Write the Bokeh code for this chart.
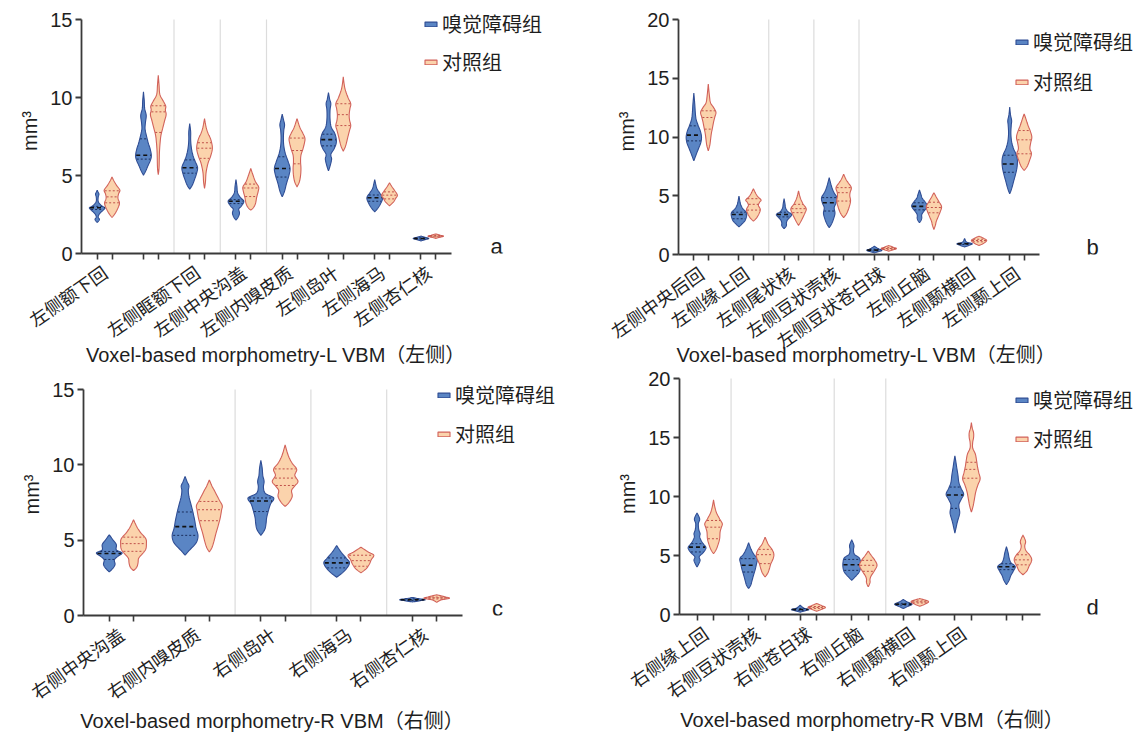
import math
import numpy as np
from bokeh.plotting import figure
from bokeh.models import Range1d, FixedTicker, Legend, LegendItem, Label
from bokeh.layouts import column, row
from bokeh.embed import file_html
from bokeh.resources import INLINE

# ---------------- data ----------------
GROUP_NAMES = ["嗅觉障碍组", "对照组"]

A_LABELS = ["左侧额下回", "左侧眶额下回", "左侧中央沟盖", "左侧内嗅皮质", "左侧岛叶", "左侧海马", "左侧杏仁核"]
A_LABEL_AT = [0, 2, 3, 4, 5, 6, 7]
A_SEPARATORS = [2, 3, 4]
A_BLUE = [
    [(1.99, 0), (2.1, .2), (2.2, .28), (2.35, .12), (2.55, .3), (2.8, .8), (2.93, 1.0), (3.05, .6), (3.3, .15), (3.6, .12), (3.8, .22), (3.95, .1), (4.06, 0)],
    [(5.02, 0), (5.3, .3), (5.6, .55), (6.0, .9), (6.3, 1.0), (6.7, .85), (7.1, .6), (7.6, .35), (8.0, .2), (8.4, .25), (8.85, .35), (9.3, .15), (9.8, .1), (10.36, 0)],
    [(4.12, 0), (4.4, .35), (4.8, .65), (5.1, .85), (5.5, 1.0), (5.9, .7), (6.3, .4), (6.8, .2), (7.3, .12), (7.8, .12), (8.33, 0)],
    [(2.14, 0), (2.35, .3), (2.6, .45), (2.85, .35), (3.05, .7), (3.35, 1.0), (3.6, .55), (3.9, .2), (4.3, .12), (4.74, 0)],
    [(3.63, 0), (4.0, .3), (4.5, .55), (5.0, .85), (5.45, 1.0), (5.9, .75), (6.4, .4), (6.9, .2), (7.4, .15), (7.9, .2), (8.25, .3), (8.6, .15), (8.93, 0)],
    [(5.30, 0), (5.6, .2), (6.05, .4), (6.35, .3), (6.7, .7), (7.0, .95), (7.3, 1.0), (7.7, .8), (8.1, .35), (8.6, .2), (9.2, .2), (9.6, .3), (9.9, .15), (10.32, 0)],
    [(2.67, 0), (2.9, .4), (3.2, .75), (3.57, 1.0), (3.9, .6), (4.2, .25), (4.74, 0)],
    [(0.80, 0), (0.9, .6), (0.96, 1.0), (1.03, .6), (1.12, 0)],
]
A_BLUE_Q = [(2.82, 2.93, 3.02), (6.05, 6.3, 7.35), (5.15, 5.5, 6.0), (3.2, 3.35, 3.45),
            (4.9, 5.45, 6.2), (6.9, 7.3, 7.65), (3.35, 3.57, 3.75), (.92, .96, 1.0)]
A_ORANGE = [
    [(2.31, 0), (2.5, .3), (2.8, .65), (3.2, .95), (3.45, .8), (3.63, .75), (3.85, .85), (4.06, 1.0), (4.35, .6), (4.65, .25), (4.91, 0)],
    [(5.06, 0), (5.5, .1), (6.5, .15), (7.2, .25), (7.6, .35), (8.0, .55), (8.5, .8), (8.9, 1.0), (9.2, .9), (9.45, .95), (9.8, .6), (10.2, .2), (10.8, .1), (11.43, 0)],
    [(4.17, 0), (4.6, .12), (5.2, .2), (5.8, .45), (6.2, .75), (6.75, 1.0), (7.3, .8), (7.7, .45), (8.1, .2), (8.65, 0)],
    [(2.78, 0), (2.95, .35), (3.2, .6), (3.6, .75), (4.0, .95), (4.27, 1.0), (4.6, .6), (5.0, .3), (5.45, 0)],
    [(4.27, 0), (4.6, .3), (5.0, .45), (5.45, .5), (5.9, .45), (6.3, .5), (6.7, .75), (7.1, .95), (7.4, 1.0), (7.75, .7), (8.1, .35), (8.65, 0)],
    [(6.56, 0), (6.9, .3), (7.4, .55), (7.9, .8), (8.2, .95), (8.55, .8), (8.9, .75), (9.3, .85), (9.6, .95), (10.0, .6), (10.5, .25), (10.9, .1), (11.32, 0)],
    [(3.06, 0), (3.3, .5), (3.55, .8), (3.74, 1.0), (4.0, .7), (4.25, .35), (4.53, 0)],
    [(0.97, 0), (1.05, .6), (1.11, 1.0), (1.17, .6), (1.25, 0)],
]
A_ORANGE_Q = [(3.25, 3.63, 4.02), (7.76, 9.08, 9.47), (6.1, 6.75, 7.1), (3.65, 4.2, 4.45),
              (5.75, 6.6, 7.4), (8.2, 8.9, 9.6), (3.5, 3.74, 3.95), (1.07, 1.11, 1.15)]

B_LABELS = ["左侧中央后回", "左侧缘上回", "左侧尾状核", "左侧豆状壳核", "左侧豆状苍白球", "左侧丘脑", "左侧颞横回", "左侧颞上回"]
B_LABEL_AT = [0, 1, 2, 3, 4, 5, 6, 7]
B_SEPARATORS = [2, 3, 4]
B_BLUE = [
    [(7.97, 0), (8.5, .3), (9.0, .6), (9.5, .9), (10.0, 1.0), (10.5, .85), (11.0, .55), (11.5, .3), (12.0, .2), (12.8, .12), (13.74, 0)],
    [(2.36, 0), (2.6, .4), (2.9, .8), (3.3, 1.0), (3.6, .95), (3.9, .5), (4.3, .2), (4.98, 0)],
    [(2.19, 0), (2.45, .3), (2.7, .3), (2.95, .45), (3.2, .8), (3.41, 1.0), (3.65, .5), (3.95, .2), (4.3, .12), (4.75, 0)],
    [(2.28, 0), (2.6, .3), (3.0, .55), (3.5, .75), (3.98, .65), (4.4, .9), (4.84, 1.0), (5.3, .6), (5.8, .3), (6.54, 0)],
    [(0.14, 0), (0.25, .6), (0.37, 1.0), (0.5, .5), (0.71, 0)],
    [(2.7, 0), (2.9, .2), (3.1, .3), (3.4, .3), (3.7, .6), (4.0, .95), (4.2, 1.0), (4.5, .7), (4.8, .35), (5.1, .2), (5.49, 0)],
    [(0.65, 0), (0.78, .6), (0.91, 1.0), (1.02, .4), (1.15, .15), (1.37, 0)],
    [(5.16, 0), (5.6, .25), (6.2, .5), (6.8, .75), (7.4, .95), (8.0, 1.0), (8.5, .85), (9.0, .5), (9.6, .25), (10.3, .15), (11.0, .2), (11.4, .25), (11.9, .1), (12.54, 0)],
]
B_BLUE_Q = [(9.67, 10.16, 10.95), (3.04, 3.4, 3.6), (3.2, 3.41, 3.6), (3.7, 4.41, 4.84),
            (.3, .37, .45), (3.8, 4.1, 4.4), (.85, .91, .97), (7.0, 7.7, 8.45)]
B_ORANGE = [
    [(8.82, 0), (9.3, .2), (9.8, .3), (10.3, .4), (10.8, .55), (11.3, .7), (11.7, .85), (12.1, 1.0), (12.5, .7), (12.9, .3), (13.5, .15), (14.51, 0)],
    [(2.85, 0), (3.1, .4), (3.5, .75), (3.84, .9), (4.18, .65), (4.45, .8), (4.64, 1.0), (4.9, .6), (5.2, .3), (5.6, 0)],
    [(2.48, 0), (2.8, .3), (3.2, .6), (3.55, .85), (3.9, 1.0), (4.3, .6), (4.7, .3), (5.0, .15), (5.41, 0)],
    [(3.13, 0), (3.5, .4), (4.0, .7), (4.55, .9), (5.0, .8), (5.3, .85), (5.69, 1.0), (6.1, .6), (6.4, .3), (6.83, 0)],
    [(0.28, 0), (0.4, .6), (0.51, 1.0), (0.62, .6), (0.77, 0)],
    [(2.13, 0), (2.5, .2), (2.8, .3), (3.2, .55), (3.6, .8), (4.07, 1.0), (4.5, .65), (4.9, .3), (5.26, 0)],
    [(0.77, 0), (0.95, .6), (1.19, 1.0), (1.38, .6), (1.56, 0)],
    [(7.15, 0), (7.5, .4), (8.0, .7), (8.57, .95), (9.0, .75), (9.5, .85), (9.99, 1.0), (10.5, .8), (11.0, .5), (11.5, .25), (11.97, 0)],
]
B_ORANGE_Q = [(10.67, 11.66, 12.23), (3.78, 4.27, 4.75), (3.56, 3.9, 4.27), (4.55, 5.26, 5.69),
              (.45, .51, .58), (3.55, 4.0, 4.45), (1.08, 1.19, 1.3), (8.57, 9.76, 10.55)]

C_LABELS = ["右侧中央沟盖", "右侧内嗅皮质", "右侧岛叶", "右侧海马", "右侧杏仁核"]
C_LABEL_AT = [0, 1, 2, 3, 4]
C_SEPARATORS = [2, 3, 4]
C_BLUE = [
    [(2.89, 0), (3.15, .3), (3.4, .45), (3.7, .4), (3.95, .7), (4.15, 1.0), (4.35, .55), (4.7, .55), (5.0, .3), (5.36, 0)],
    [(4.0, 0), (4.3, .3), (4.7, .75), (5.0, .95), (5.35, 1.0), (5.8, .85), (6.3, .75), (6.9, .6), (7.4, .45), (7.9, .3), (8.3, .25), (8.6, .3), (8.9, .15), (9.23, 0)],
    [(5.32, 0), (5.7, .3), (6.1, .4), (6.5, .45), (7.0, .6), (7.4, .75), (7.8, 1.0), (8.1, .35), (8.5, .2), (8.9, .25), (9.3, .15), (9.8, .1), (10.29, 0)],
    [(2.54, 0), (2.8, .4), (3.1, .75), (3.49, 1.0), (3.8, .75), (4.2, .35), (4.64, 0)],
    [(0.9, 0), (0.98, .6), (1.05, 1.0), (1.12, .5), (1.2, 0)],
]
C_BLUE_Q = [(3.72, 4.12, 4.25), (5.32, 5.9, 6.87), (6.9, 7.6, 7.8), (3.16, 3.49, 3.82), (1.0, 1.05, 1.1)]
C_ORANGE = [
    [(2.98, 0), (3.2, .25), (3.5, .35), (3.8, .4), (4.1, .7), (4.4, .95), (4.77, 1.0), (5.1, .95), (5.5, .55), (5.9, .25), (6.36, 0)],
    [(4.22, 0), (4.5, .2), (4.9, .35), (5.4, .5), (6.0, .7), (6.5, .85), (7.0, .95), (7.3, 1.0), (7.7, .75), (8.2, .45), (8.6, .2), (9.0, 0)],
    [(7.24, 0), (7.5, .3), (7.9, .55), (8.3, .5), (8.6, .75), (8.9, 1.0), (9.3, .75), (9.7, .9), (10.1, .55), (10.6, .25), (11.32, 0)],
    [(2.83, 0), (3.1, .4), (3.4, .65), (3.7, .8), (4.0, 1.0), (4.2, .6), (4.53, 0)],
    [(0.88, 0), (1.05, .4), (1.15, 1.0), (1.25, .6), (1.38, 0)],
]
C_ORANGE_Q = [(4.26, 4.77, 5.2), (6.29, 7.02, 7.57), (8.63, 9.12, 9.73), (3.27, 3.64, 4.0), (1.1, 1.17, 1.22)]

D_LABELS = ["右侧缘上回", "右侧豆状壳核", "右侧苍白球", "右侧丘脑", "右侧颞横回", "右侧颞上回"]
D_LABEL_AT = [0, 1, 2, 3, 4, 5]
D_SEPARATORS = [1, 3, 4]
D_BLUE = [
    [(4.02, 0), (4.3, .2), (4.6, .35), (4.9, .25), (5.2, .65), (5.5, .95), (5.71, 1.0), (6.0, .7), (6.3, .45), (6.6, .3), (6.85, .35), (7.2, .2), (7.7, .15), (8.1, .3), (8.61, 0)],
    [(2.2, 0), (2.5, .25), (2.9, .4), (3.3, .55), (3.8, .75), (4.3, .9), (4.73, 1.0), (5.1, .6), (5.5, .3), (6.08, 0)],
    [(0.2, 0), (0.33, .6), (0.42, 1.0), (0.55, .4), (0.79, 0)],
    [(2.9, 0), (3.2, .4), (3.6, .85), (4.0, 1.0), (4.4, 1.0), (4.8, .85), (5.1, .3), (5.5, .2), (5.85, .25), (6.33, 0)],
    [(0.51, 0), (0.7, .55), (0.87, 1.0), (1.05, .5), (1.27, 0)],
    [(6.9, 0), (7.4, .15), (7.9, .3), (8.4, .5), (8.7, .55), (9.3, .45), (9.8, .75), (10.2, 1.0), (10.7, .7), (11.2, .45), (11.8, .35), (12.5, .2), (13.0, .1), (13.45, 0)],
    [(2.53, 0), (2.9, .3), (3.3, .5), (3.7, .8), (4.07, 1.0), (4.4, .5), (4.8, .3), (5.2, .2), (5.76, 0)],
]
D_BLUE_Q = [(5.3, 5.71, 6.0), (3.6, 4.17, 4.73), (.36, .42, .5), (3.74, 4.22, 4.67),
            (.8, .87, .95), (9.0, 10.13, 10.8), (3.8, 4.05, 4.3)]
D_ORANGE = [
    [(5.15, 0), (5.5, .3), (6.0, .55), (6.45, .7), (7.0, .75), (7.4, .9), (7.7, 1.0), (8.1, .7), (8.6, .35), (9.1, .15), (9.71, 0)],
    [(3.18, 0), (3.5, .3), (3.9, .5), (4.3, .65), (4.7, .9), (5.1, 1.0), (5.5, .8), (5.9, .4), (6.2, .2), (6.56, 0)],
    [(0.28, 0), (0.45, .6), (0.6, 1.0), (0.75, .6), (0.93, 0)],
    [(2.34, 0), (2.7, .2), (3.0, .2), (3.3, .35), (3.7, .7), (4.17, 1.0), (4.6, .75), (5.0, .35), (5.38, 0)],
    [(0.7, 0), (0.88, .6), (1.07, 1.0), (1.2, .7), (1.35, 0)],
    [(8.67, 0), (9.2, .2), (9.8, .35), (10.4, .5), (11.0, .75), (11.5, 1.0), (12.0, .85), (12.5, .7), (13.0, .6), (13.6, .45), (14.1, .15), (14.6, .15), (15.0, .25), (15.4, .25), (15.8, .1), (16.27, 0)],
    [(3.37, 0), (3.7, .45), (4.1, .7), (4.6, 1.0), (5.0, .8), (5.4, .35), (5.8, .2), (6.2, .3), (6.74, 0)],
]
D_ORANGE_Q = [(6.42, 7.4, 7.97), (4.31, 5.07, 5.52), (.52, .6, .68), (3.66, 4.17, 4.59),
              (.98, 1.07, 1.15), (11.55, 12.3, 12.9), (4.21, 4.63, 5.06)]

# ---------------- styling ----------------
BLUE_FILL, BLUE_LINE = "#5a85c4", "#2f4d94"
ORANGE_FILL, ORANGE_LINE = "#fbd3ac", "#d2625a"
AXIS_COLOR = "#3a3a3a"
TEXT_COLOR = "#1e1e1e"
LATIN = "Liberation Sans, Noto Sans CJK SC"
CJK = "Noto Sans CJK SC"
HALF_W = 0.34      # max half width of a violin (group spacing = 2 units)
OFFSET = 0.32      # offset of each violin from the group centre
EM, EN = "\u2003", "\u2002"


def smooth(profile, n=6):
    pts = np.array(profile, dtype=float)
    P = np.vstack([pts[0], pts, pts[-1]])
    out = []
    for i in range(1, len(P) - 2):
        p0, p1, p2, p3 = P[i - 1], P[i], P[i + 1], P[i + 2]
        for t in np.linspace(0, 1, n, endpoint=False):
            t2, t3 = t * t, t * t * t
            out.append(0.5 * (2 * p1 + (-p0 + p2) * t + (2 * p0 - 5 * p1 + 4 * p2 - p3) * t2
                              + (-p0 + 3 * p1 - 3 * p2 + p3) * t3))
    out.append(pts[-1])
    out = np.array(out)
    out[:, 1] = np.clip(out[:, 1], 0, None)
    return out[:, 0], out[:, 1]


def build(labels, label_at, seps, blue, blue_q, orange, orange_q, ymax, title, letter, g):
    n = len(blue)
    fl, fr, xe, ft, yt, fb = g["frame"]
    fw, fh = fr - fl, fb - ft
    x_end = 2 * n * fw / (xe - fl)
    y_end = ymax * fh / (fb - yt)
    p = figure(x_range=Range1d(0, x_end), y_range=Range1d(0, y_end),
               frame_width=fw, frame_height=fh,
               min_border_left=g["bl"], min_border_right=g["br"],
               min_border_top=g["bt"], min_border_bottom=g["bb"],
               output_backend="svg", toolbar_location=None, title=None)
    p.xgrid.visible = False
    p.ygrid.visible = False
    p.outline_line_color = None
    p.background_fill_color = "white"
    p.border_fill_color = "white"

    p.segment(x0=[2 * s for s in seps], y0=[0] * len(seps), x1=[2 * s for s in seps],
              y1=[ymax] * len(seps), line_color="#dcdcdc", line_width=1.2)

    renderers = []
    for series, quarts, side, fill, line in ((blue, blue_q, -1, BLUE_FILL, BLUE_LINE),
                                             (orange, orange_q, 1, ORANGE_FILL, ORANGE_LINE)):
        xs, ys = [], []
        med_seg, q_seg = ([], [], [], []), ([], [], [], [])
        for i, prof in enumerate(series):
            cx = 2 * i + 1 + side * OFFSET
            yy, ww = smooth(prof)
            xs.append(np.concatenate([cx - HALF_W * ww, (cx + HALF_W * ww)[::-1]]))
            ys.append(np.concatenate([yy, yy[::-1]]))
            order = np.argsort(yy)
            for k, qv in enumerate(quarts[i]):
                hw = HALF_W * float(np.interp(qv, yy[order], ww[order])) * 0.92
                seg = med_seg if k == 1 else q_seg
                seg[0].append(cx - hw); seg[1].append(qv); seg[2].append(cx + hw); seg[3].append(qv)
        r = p.patches(xs=xs, ys=ys, fill_color=fill, line_color=line, line_width=1.1)
        renderers.append(r)
        if side < 0:
            p.segment(*q_seg, line_color="#1b2f5e", line_width=1, line_dash="2 2")
            p.segment(*med_seg, line_color="#111111", line_width=1.6, line_dash="4 3")
        else:
            p.segment(*q_seg, line_color="#c0504a", line_width=1, line_dash="2 2")
            p.segment(*med_seg, line_color="#c0504a", line_width=1, line_dash="2 2")

    # y axis
    yax = p.yaxis[0]
    yax.bounds = (0, ymax)
    yax.ticker = FixedTicker(ticks=list(range(0, ymax + 1, 5)))
    yax.axis_label = "mm³"
    yax.axis_label_text_font = LATIN
    yax.axis_label_text_font_size = "20px"
    yax.axis_label_text_font_style = "normal"
    yax.axis_label_text_color = TEXT_COLOR
    yax.axis_label_standoff = 6
    yax.major_label_text_font = LATIN
    yax.major_label_text_font_size = "20px"
    yax.major_label_text_color = TEXT_COLOR
    yax.major_label_standoff = 3
    yax.major_tick_out = 6
    yax.major_tick_in = 0
    yax.minor_tick_line_color = None
    yax.axis_line_width = 1.8
    yax.axis_line_color = AXIS_COLOR
    yax.major_tick_line_color = AXIS_COLOR
    yax.major_tick_line_width = 1.8

    # x axis
    centers = [2 * k + 1 for k in label_at]
    ticks_minor = []
    for i in range(n):
        ticks_minor += [2 * i + 1 - OFFSET, 2 * i + 1 + OFFSET]
    xax = p.xaxis[0]
    xax.bounds = (0, 2 * n)
    xax.ticker = FixedTicker(ticks=centers, minor_ticks=ticks_minor)
    xax.major_label_overrides = {c: lab for c, lab in zip(centers, labels)}
    xax.major_label_orientation = math.radians(35)
    xax.major_label_text_font = CJK
    xax.major_label_text_font_size = "18px"
    xax.major_label_text_color = TEXT_COLOR
    xax.major_label_standoff = 10
    xax.major_tick_out = 0
    xax.major_tick_in = 0
    xax.minor_tick_out = 6
    xax.minor_tick_in = 0
    xax.minor_tick_line_color = AXIS_COLOR
    xax.minor_tick_line_width = 1.6
    xax.axis_line_width = 1.8
    xax.axis_line_color = AXIS_COLOR
    # title is centred on the frame; trailing spaces shift it to sit under the axis
    xax.axis_label = title + g["pad"]
    xax.axis_label_text_font = LATIN
    xax.axis_label_text_font_size = "20px"
    xax.axis_label_text_font_style = "normal"
    xax.axis_label_text_color = TEXT_COLOR
    xax.axis_label_standoff = g["tso"]

    legend = Legend(items=[LegendItem(label=GROUP_NAMES[0], renderers=[renderers[0]]),
                           LegendItem(label=GROUP_NAMES[1], renderers=[renderers[1]])],
                    location=g["leg"], padding=0, margin=0, spacing=g["lsp"],
                    label_height=28, glyph_height=6, glyph_width=15, label_standoff=4,
                    border_line_color=None, background_fill_alpha=0,
                    label_text_font=CJK, label_text_font_size="20px", label_text_color=TEXT_COLOR)
    p.add_layout(legend)

    p.add_layout(Label(x=g["letter"], y=-5, x_units="screen", y_units="screen",
                       text=letter, text_align="center", text_baseline="bottom",
                       text_font=LATIN, text_font_size="22px", text_color=TEXT_COLOR))
    return p


# frame = (left, right, x-axis end, top, y of top tick, bottom) in page pixels
GA = dict(frame=(81, 560, 451, 8, 19, 253), bl=81, br=8, bt=8, bb=115,
          leg=(342, 177), lsp=9, tso=-12, letter=415, pad=EM * 4 + EN)
GB = dict(frame=(678, 1134, 1039, 8, 19, 254), bl=110, br=2, bt=8, bb=114,
          leg=(336, 158), lsp=11, tso=-23, letter=414, pad=EM * 4)
GC = dict(frame=(83, 560, 462, 372, 388, 614), bl=83, br=8, bt=4, bb=120,
          leg=(353, 167), lsp=10, tso=-8, letter=414, pad=EM * 5)
GD = dict(frame=(679, 1134, 1040, 372, 377, 613), bl=111, br=2, bt=4, bb=121,
          leg=(335, 161), lsp=10, tso=-8, letter=413, pad=EM * 3 + EN)

pa = build(A_LABELS, A_LABEL_AT, A_SEPARATORS, A_BLUE, A_BLUE_Q, A_ORANGE, A_ORANGE_Q, 15,
           "Voxel-based morphometry-L VBM（左侧）", "a", GA)
pb = build(B_LABELS, B_LABEL_AT, B_SEPARATORS, B_BLUE, B_BLUE_Q, B_ORANGE, B_ORANGE_Q, 20,
           "Voxel-based morphometry-L VBM（左侧）", "b", GB)
pc = build(C_LABELS, C_LABEL_AT, C_SEPARATORS, C_BLUE, C_BLUE_Q, C_ORANGE, C_ORANGE_Q, 15,
           "Voxel-based morphometry-R VBM（右侧）", "c", GC)
pd = build(D_LABELS, D_LABEL_AT, D_SEPARATORS, D_BLUE, D_BLUE_Q, D_ORANGE, D_ORANGE_Q, 20,
           "Voxel-based morphometry-R VBM（右侧）", "d", GD)

layout = column(row(pa, pb), row(pc, pd))
open("out.html", "w").write(file_html(layout, INLINE))
